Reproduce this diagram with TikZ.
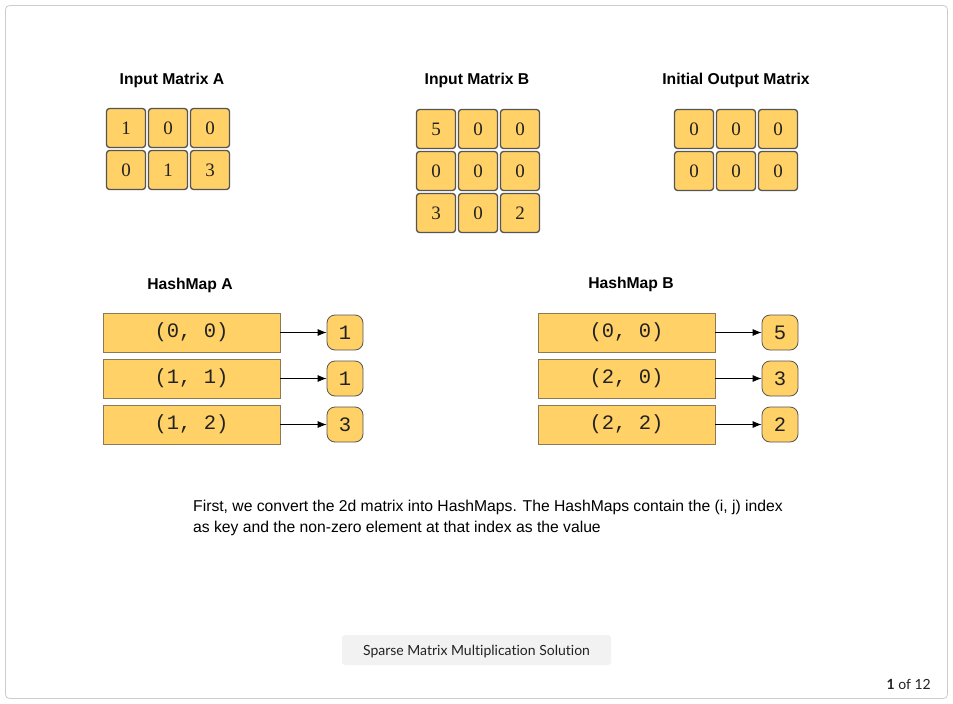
\documentclass[tikz,border=0pt]{standalone}
\usepackage{fontspec}
\setmainfont{Liberation Sans}
\newfontfamily\monof{Liberation Mono}
\newfontfamily\serf{Liberation Serif}
\newfontfamily\btnf[Ligatures=NoCommon]{Lato}
\usetikzlibrary{arrows.meta}
\definecolor{cellfill}{HTML}{FFD166}
\definecolor{celldraw}{HTML}{555555}
\definecolor{keydraw}{HTML}{8C7A55}
\definecolor{framec}{HTML}{CCCCCC}
\definecolor{btnfill}{HTML}{F2F2F2}
\definecolor{txt}{HTML}{222222}
\begin{document}
\begin{tikzpicture}[x=1pt,y=-1pt,
  cell/.style={draw=celldraw,fill=cellfill,line width=1.3pt,rounded corners=3pt,minimum width=39pt,minimum height=39pt,inner sep=0pt,font=\serf\fontsize{19}{21}\selectfont,text=txt},
  title/.style={font=\bfseries\fontsize{15.7}{18}\selectfont,text=black},
  keybox/.style={draw=keydraw,fill=cellfill,line width=0.8pt,minimum width=177pt,minimum height=39pt,inner sep=0pt,font=\monof\fontsize{20.5}{22}\selectfont,text=txt},
  valbox/.style={draw=celldraw,fill=cellfill,line width=0.8pt,rounded corners=8pt,minimum width=36pt,minimum height=35pt,inner sep=0pt,font=\monof\fontsize{20.5}{22}\selectfont,text=txt},
  link/.style={-{Latex[length=9pt,width=7pt]},line width=0.8pt,black}
]
\useasboundingbox (0,0) rectangle (953,704);
\fill[white] (0,0) rectangle (953,704);
\draw[framec,line width=0.8pt,rounded corners=4pt] (5.5,5.5) rectangle (947.5,698.5);

% Matrix A
\node[title] (tA) at (172,80) {Input Matrix A};
\foreach \r/\y/\vals in {0/128/{1,0,0},1/170/{0,1,3}}{
  \foreach \v [count=\c from 0] in \vals {
    \node[cell] (a\r\c) at (126+42*\c,\y) {\v};
  }
}
% Matrix B
\node[title] (tB) at (477,80) {Input Matrix B};
\foreach \r/\y/\vals in {0/129/{5,0,0},1/171/{0,0,0},2/213/{3,0,2}}{
  \foreach \v [count=\c from 0] in \vals {
    \node[cell] (b\r\c) at (436+42*\c,\y) {\v};
  }
}
% Output
\node[title] (tO) at (736,80) {Initial Output Matrix};
\foreach \r/\y/\vals in {0/129/{0,0,0},1/171/{0,0,0}}{
  \foreach \v [count=\c from 0] in \vals {
    \node[cell] (o\r\c) at (694+42*\c,\y) {\v};
  }
}

% HashMap A
\node[title] (hA) at (190,285) {HashMap A};
\node[keybox] (ka1) at (191.5,332.5) {(0, 0)};
\node[keybox] (ka2) at (191.5,378.5) {(1, 1)};
\node[keybox] (ka3) at (191.5,424.5) {(1, 2)};
\node[valbox] (va1) at (345,332.5) {1};
\node[valbox] (va2) at (345,378.5) {1};
\node[valbox] (va3) at (345,424.5) {3};
\draw[link] (ka1) -- (va1);
\draw[link] (ka2) -- (va2);
\draw[link] (ka3) -- (va3);

% HashMap B
\node[title] (hB) at (631,284) {HashMap B};
\node[keybox] (kb1) at (626.5,332.5) {(0, 0)};
\node[keybox] (kb2) at (626.5,378.5) {(2, 0)};
\node[keybox] (kb3) at (626.5,424.5) {(2, 2)};
\node[valbox] (vb1) at (780,332.5) {5};
\node[valbox] (vb2) at (780,378.5) {3};
\node[valbox] (vb3) at (780,424.5) {2};
\draw[link] (kb1) -- (vb1);
\draw[link] (kb2) -- (vb2);
\draw[link] (kb3) -- (vb3);

% Description
\node[anchor=north west,align=left,inner sep=0pt,font=\fontsize{15.7}{20.5}\selectfont,text=black] (desc) at (193,500) {First, we convert the 2d matrix into HashMaps. The HashMaps contain the (i, j) index\\as key and the non-zero element at that index as the value};

% Footer button
\node[fill=btnfill,rounded corners=3pt,minimum width=269pt,minimum height=30pt,inner sep=0pt] (btn) at (476.5,650) {};
\node[inner sep=0pt,font=\btnf\fontsize{14}{16}\selectfont,text=txt] (btntext) at (476.5,652) {Sparse Matrix Multiplication Solution};
\node[anchor=east,inner sep=0pt,font=\btnf\fontsize{14}{16}\selectfont,text=txt] (pg) at (931,684) {\textbf{1} of 12};
\end{tikzpicture}
\end{document}
